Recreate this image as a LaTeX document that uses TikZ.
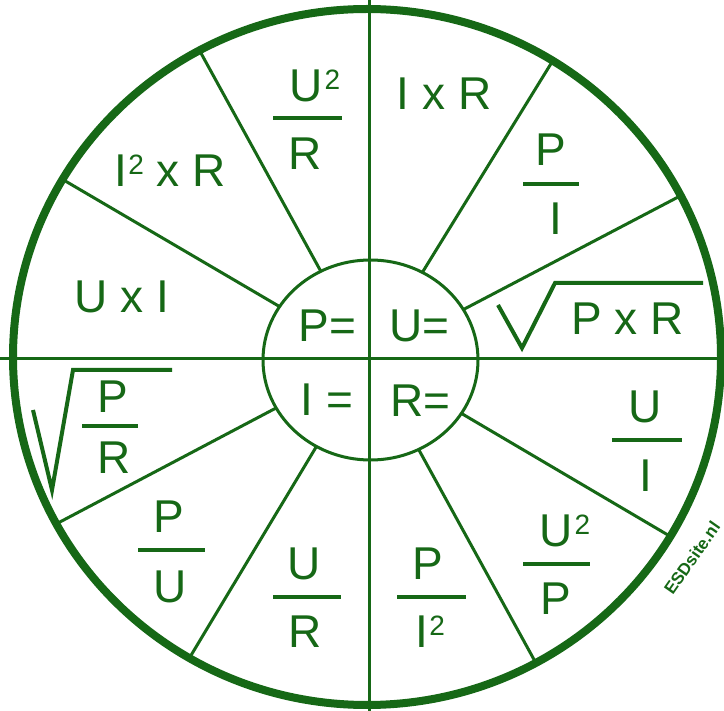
\documentclass[tikz,border=0pt]{standalone}
\usepackage{fontspec}
\setmainfont{Liberation Sans}
\usetikzlibrary{calc}
\definecolor{groen}{RGB}{22,104,22}
\newcommand\kwadraat{\kern1.5pt\raisebox{12pt}{\fontsize{28}{28}\selectfont 2}}

\begin{document}
\begin{tikzpicture}[
    x=1pt,
    y=-1pt,
    font=\fontsize{46}{50}\selectfont,
    spaak/.style={groen,line width=3pt},
    streep/.style={groen,line width=4.5pt},
    wortel/.style={groen,line width=4pt},
    tekst/.style={anchor=base,text=groen,inner sep=0pt}
]
    \useasboundingbox[fill=white] (0,0) rectangle (724,711);
    \coordinate (m) at (369,359);

    % Spaken en assen
    \begin{scope}
        \clip (367,357) ellipse [x radius=354, y radius=348];
        \foreach \x/\y in {682/195,552/62,202/55,67/182,58/523,190/657,537/665,673/538}
            \draw[spaak] (m) -- ($(m)!1.1!(\x,\y)$);
    \end{scope}
    \fill[white] (370.5,360) ellipse [x radius=107.5, y radius=100];
    \draw[spaak] (369,0) -- (369,711);
    \draw[spaak] (0,359) -- (724,359);
    \draw[spaak] (370.5,360) ellipse [x radius=107.5, y radius=100];
    \draw[groen,line width=8pt] (367,357) ellipse [x radius=354, y radius=348];

    % Midden
    \node[tekst] (p) at (327.5,342) {P=};
    \node[tekst] (u) at (419.5,342) {U=};
    \node[tekst] (i) at (327,416) {I =};
    \node[tekst] (r) at (420.5,417) {R=};

    % Bovenste helft
    \node[tekst] (uur) at (315,102) {U\kwadraat};
    \draw[streep] (273,118) -- (342,118);
    \node[tekst] (uurr) at (305,170) {R};

    \node[tekst] (ir) at (444,110) {I x R};

    \node[tekst] (pi) at (551,166) {P};
    \draw[streep] (523,184) -- (579,184);
    \node[tekst] (pii) at (556,235) {I};

    \draw[wortel] (498,305) -- (522,348) -- (555,283) -- (703,283);
    \node[tekst] (pr) at (627.5,335) {P x R};

    \node[tekst] (iir) at (170,187) {I\kwadraat\ x R};
    \node[tekst] (ui) at (122,313) {U x I};

    % Onderste helft
    \node[tekst] (uiu) at (645,423) {U};
    \draw[streep] (612,440) -- (682,440);
    \node[tekst] (uii) at (645.5,492) {I};

    \node[tekst] (uup) at (565,547) {U\kwadraat};
    \draw[streep] (523,564) -- (590,564);
    \node[tekst] (uupp) at (555.5,615) {P};

    \node[tekst] (pip) at (428,580) {P};
    \draw[streep] (397,597) -- (466,597);
    \node[tekst] (pii2) at (430,648) {I\kwadraat};

    \node[tekst] (uru) at (304,580) {U};
    \draw[streep] (273,597) -- (341,597);
    \node[tekst] (urr) at (305,648) {R};

    \node[tekst] (pup) at (169,533) {P};
    \draw[streep] (138,550) -- (205,550);
    \node[tekst] (puu) at (170,602) {U};

    \draw[wortel] (33,410) -- (52,490) -- (73,370) -- (172,370);
    \node[tekst] (prp) at (113,413) {P};
    \draw[streep] (82,426) -- (138,426);
    \node[tekst] (prr) at (114,474) {R};

    \node[text=groen,inner sep=0pt,rotate=55,
        font=\bfseries\fontsize{17}{17}\selectfont] (site) at (692,558) {ESDsite.nl};
\end{tikzpicture}
\end{document}
